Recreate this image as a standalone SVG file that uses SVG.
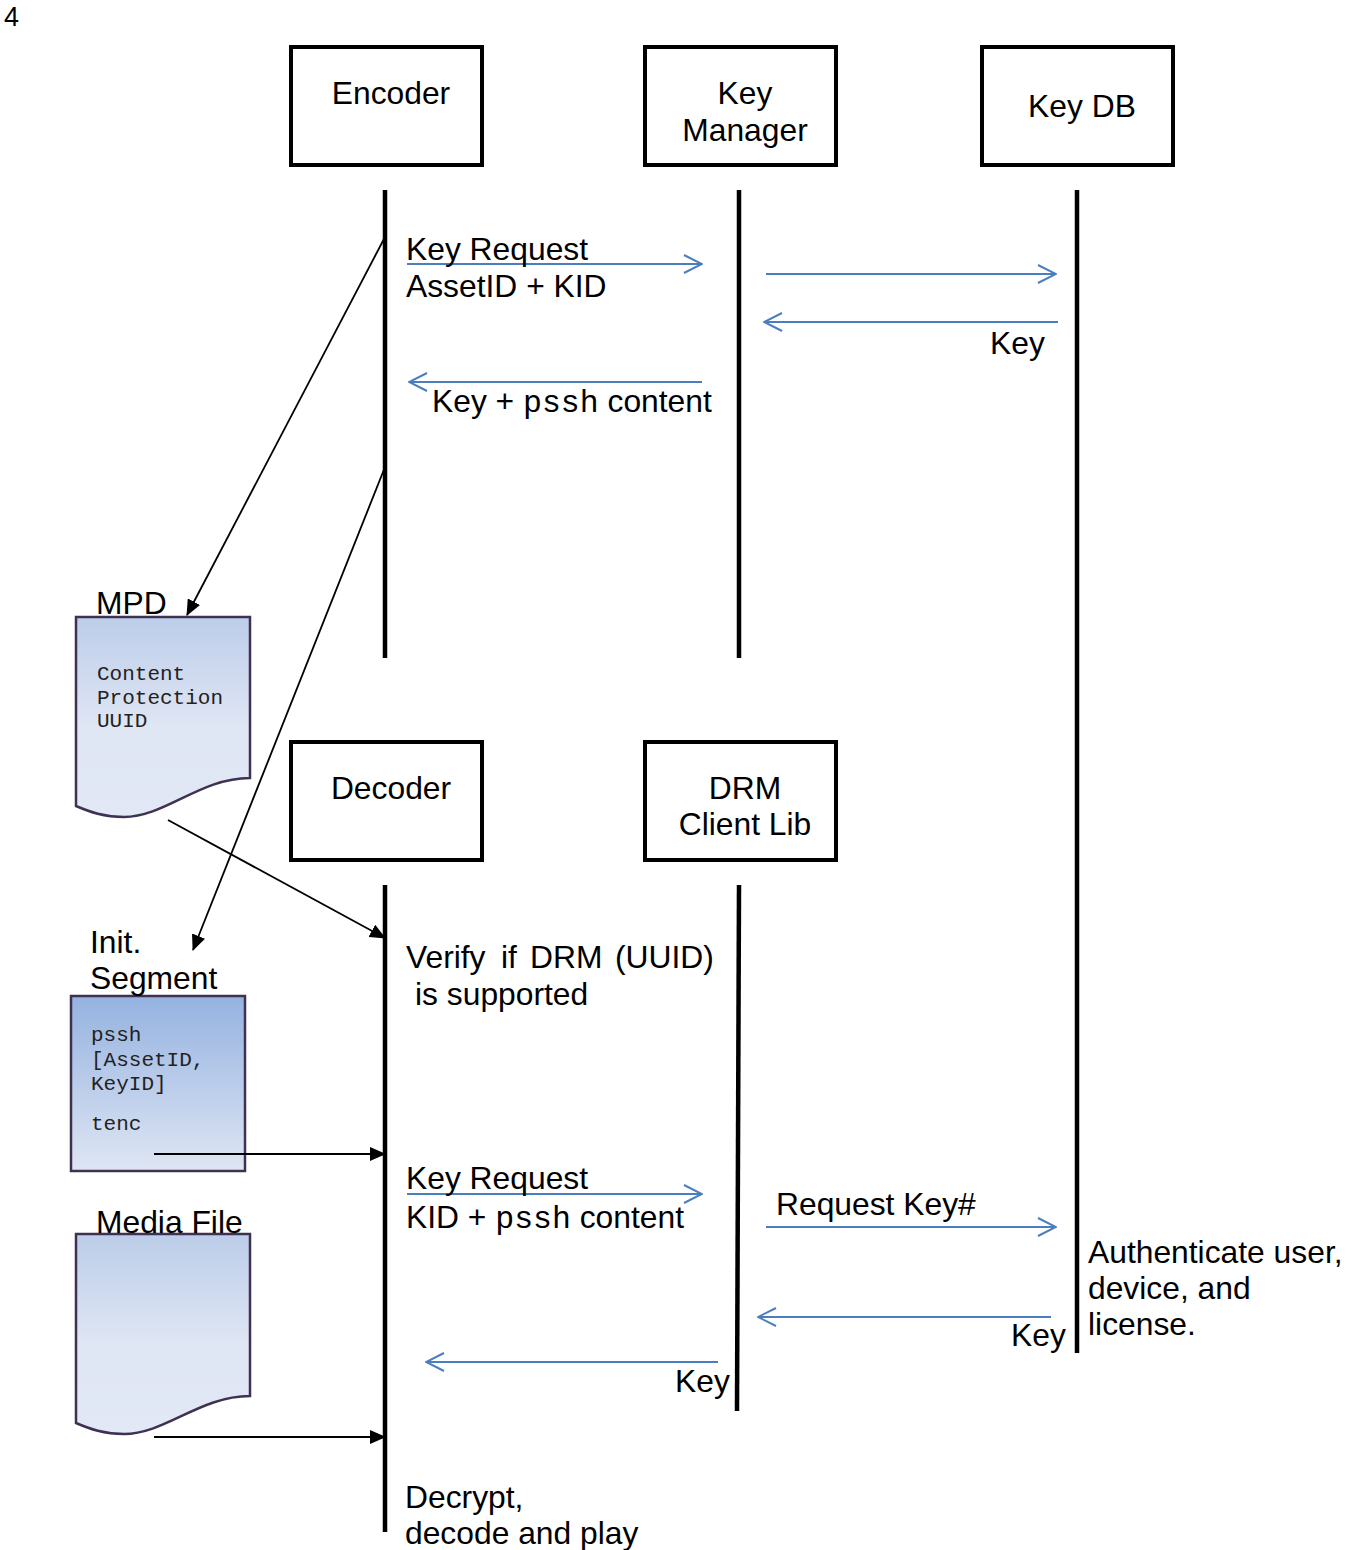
<svg xmlns="http://www.w3.org/2000/svg" width="1361" height="1550" viewBox="0 0 1361 1550">
<style>
.t{font-family:"Liberation Sans",Arial,sans-serif;font-size:31.8px;fill:#000}
.m{font-family:"Liberation Mono","Courier New",monospace;font-size:21px;fill:#222}
.mb{font-family:"Liberation Mono","Courier New",monospace;font-size:31.5px}
.box{fill:#fff;stroke:#000;stroke-width:4}
.life{stroke:#000;stroke-width:4.5;fill:none}
.blue{stroke:#4a7ebf;stroke-width:2;fill:none;marker-end:url(#open)}
.blk{stroke:#000;stroke-width:1.8;fill:none;marker-end:url(#fill)}
.doc{stroke:#3f3151;stroke-width:2.5}
</style>
<defs>
<marker id="open" viewBox="0 0 20 20" refX="19" refY="10" markerWidth="20" markerHeight="20" markerUnits="userSpaceOnUse" orient="auto">
<polyline points="1,1 19,10 1,19" fill="none" stroke="#4a7ebf" stroke-width="2"/>
</marker>
<marker id="fill" viewBox="0 0 16 14" refX="15" refY="7" markerWidth="16" markerHeight="14" markerUnits="userSpaceOnUse" orient="auto">
<path d="M0,0 L16,7 L0,14 Z" fill="#000"/>
</marker>
<linearGradient id="g1" x1="0" y1="0" x2="0" y2="1">
<stop offset="0" stop-color="#bccde9"/>
<stop offset="0.55" stop-color="#dfe6f4"/>
<stop offset="1" stop-color="#e2e8f5"/>
</linearGradient>
<linearGradient id="g2" x1="0" y1="0" x2="0" y2="1">
<stop offset="0" stop-color="#95b2e0"/>
<stop offset="1" stop-color="#dfe6f4"/>
</linearGradient>
</defs>
<rect width="1361" height="1550" fill="#fff"/>
<text class="t" x="4" y="26" style="font-size:27px">4</text>

<g id="encoder"><rect class="box" x="291" y="47" width="191" height="118"/><text class="t" x="391" y="104" text-anchor="middle">Encoder</text></g>
<g id="keymanager"><rect class="box" x="645" y="47" width="191" height="118"/><text class="t" x="745" y="104" text-anchor="middle">Key</text><text class="t" x="745" y="141" text-anchor="middle">Manager</text></g>
<g id="keydb"><rect class="box" x="982" y="47" width="191" height="118"/><text class="t" x="1082" y="117" text-anchor="middle">Key DB</text></g>
<g id="decoder"><rect class="box" x="291" y="742" width="191" height="118"/><text class="t" x="391" y="799" text-anchor="middle">Decoder</text></g>
<g id="drmclient"><rect class="box" x="645" y="742" width="191" height="118"/><text class="t" x="745" y="799" text-anchor="middle">DRM</text><text class="t" x="745" y="835" text-anchor="middle">Client Lib</text></g>

<g id="mpd">
<path class="doc" fill="url(#g1)" d="M76,617 H250 V778 C 200,778 165,817 124,817 C 104,817 90,812 76,806 Z"/>
<text class="t" x="96" y="614">MPD</text>
<text class="m" x="97" y="680">Content</text>
<text class="m" x="97" y="704">Protection</text>
<text class="m" x="97" y="727">UUID</text>
</g>
<g id="initsegment">
<rect class="doc" fill="url(#g2)" x="71" y="996" width="174" height="175"/>
<text class="t" x="90" y="953">Init.</text>
<text class="t" x="90" y="989">Segment</text>
<text class="m" x="91" y="1041">pssh</text>
<text class="m" x="91" y="1066">[AssetID,</text>
<text class="m" x="91" y="1090">KeyID]</text>
<text class="m" x="91" y="1130">tenc</text>
</g>
<g id="mediafile">
<path class="doc" fill="url(#g1)" d="M76,1234 H250 V1396 C 200,1396 165,1434 124,1434 C 104,1434 90,1429 76,1423 Z"/>
<text class="t" x="96" y="1233">Media File</text>
</g>

<g id="lifelines">
<line class="life" x1="385" y1="190" x2="385" y2="658"/>
<line class="life" x1="739" y1="190" x2="739" y2="658"/>
<line class="life" x1="1077" y1="190" x2="1077" y2="1353"/>
<line class="life" x1="385" y1="885" x2="385" y2="1532"/>
<line class="life" x1="739" y1="885" x2="737" y2="1411"/>
</g>

<g id="connectors">
<line class="blk" x1="385" y1="237" x2="187" y2="615"/>
<line class="blk" x1="385" y1="467" x2="193" y2="950"/>
<line class="blk" x1="168" y1="820" x2="385" y2="938"/>
<line class="blk" x1="154" y1="1154" x2="385" y2="1154"/>
<line class="blk" x1="154" y1="1437" x2="385" y2="1437"/>
<line class="blue" x1="407" y1="264" x2="702" y2="264"/>
<line class="blue" x1="766" y1="274" x2="1056" y2="274"/>
<line class="blue" x1="1058" y1="322" x2="764" y2="322"/>
<line class="blue" x1="702" y1="382" x2="409" y2="382"/>
<line class="blue" x1="407" y1="1194" x2="702" y2="1194"/>
<line class="blue" x1="766" y1="1227" x2="1056" y2="1227"/>
<line class="blue" x1="1051" y1="1317" x2="758" y2="1317"/>
<line class="blue" x1="718" y1="1362" x2="426" y2="1362"/>
</g>

<g id="labels">
<text class="t" x="406" y="260">Key Request</text>
<text class="t" x="406" y="297">AssetID + KID</text>
<text class="t" x="990" y="354">Key</text>
<text class="t" x="432" y="412">Key + <tspan class="mb">pssh</tspan> content</text>
<text class="t" x="406" y="968">Verify <tspan x="501">if</tspan> <tspan x="530">DRM</tspan> <tspan x="615">(UUID)</tspan></text>
<text class="t" x="415" y="1005">is supported</text>
<text class="t" x="406" y="1189">Key Request</text>
<text class="t" x="406" y="1228">KID + <tspan class="mb">pssh</tspan> content</text>
<text class="t" x="776" y="1215">Request Key#</text>
<text class="t" x="1088" y="1263">Authenticate user,</text>
<text class="t" x="1088" y="1299">device, and</text>
<text class="t" x="1088" y="1335">license.</text>
<text class="t" x="1011" y="1346">Key</text>
<text class="t" x="675" y="1392">Key</text>
<text class="t" x="405" y="1508">Decrypt,</text>
<text class="t" x="405" y="1544">decode and play</text>
</g>
</svg>
